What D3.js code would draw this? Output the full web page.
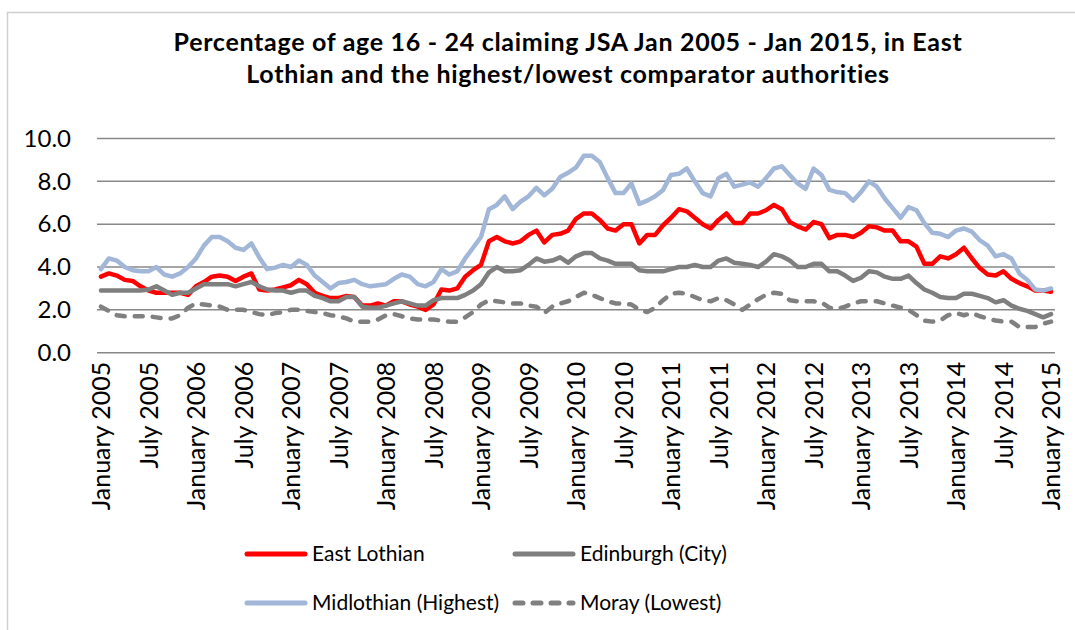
<!DOCTYPE html>
<html lang="en">
<head>
<meta charset="UTF-8">
<title>JSA claimants age 16-24</title>
<script src="https://cdn.jsdelivr.net/npm/d3@7"></script>
<style>
  body { margin: 0; background: #fff; }
  svg text { font-family: Lato, "Open Sans", sans-serif; fill: #000; }
</style>
</head>
<body>
<script>
// monthly values, Jan 2005 .. Jan 2015 (121 months)
const eastLothian = [
  3.55,3.7,3.6,3.4,3.35,3.1,2.9,2.8,2.8,2.8,
  2.8,2.7,3.1,3.3,3.55,3.6,3.55,3.35,3.55,3.7,
  2.95,2.9,2.95,3.05,3.15,3.4,3.2,2.8,2.65,2.55,
  2.55,2.65,2.6,2.2,2.2,2.3,2.2,2.4,2.4,2.25,
  2.15,2.0,2.25,2.95,2.9,3.0,3.55,3.85,4.1,5.2,
  5.4,5.2,5.1,5.2,5.5,5.7,5.15,5.5,5.55,5.7,
  6.25,6.5,6.5,6.2,5.8,5.7,6.0,6.0,5.1,5.5,
  5.5,5.95,6.3,6.7,6.6,6.3,6.0,5.8,6.2,6.5,
  6.05,6.05,6.5,6.5,6.65,6.9,6.7,6.1,5.9,5.75,
  6.1,6.0,5.35,5.5,5.5,5.4,5.6,5.9,5.85,5.7,
  5.7,5.2,5.2,4.95,4.15,4.15,4.5,4.4,4.6,4.9,
  4.4,3.95,3.65,3.6,3.8,3.45,3.25,3.1,2.9,2.9,
  2.85
];
const edinburgh = [
  2.9,2.9,2.9,2.9,2.9,2.9,2.95,3.1,2.9,2.7,
  2.8,2.8,3.0,3.2,3.2,3.2,3.2,3.1,3.2,3.3,
  3.1,2.95,2.9,2.9,2.8,2.9,2.9,2.65,2.55,2.4,
  2.4,2.6,2.6,2.15,2.1,2.1,2.2,2.3,2.4,2.3,
  2.2,2.2,2.45,2.55,2.55,2.55,2.7,2.9,3.2,3.75,
  4.0,3.8,3.8,3.85,4.1,4.4,4.25,4.3,4.45,4.2,
  4.5,4.65,4.65,4.4,4.3,4.15,4.15,4.15,3.85,3.8,
  3.8,3.8,3.9,4.0,4.0,4.1,4.0,4.0,4.3,4.4,
  4.2,4.15,4.1,4.0,4.25,4.6,4.5,4.3,4.0,4.0,
  4.15,4.15,3.8,3.8,3.6,3.35,3.5,3.8,3.75,3.55,
  3.45,3.45,3.6,3.25,2.95,2.8,2.6,2.55,2.55,2.75,
  2.75,2.65,2.55,2.35,2.45,2.2,2.05,1.95,1.8,1.65,
  1.8
];
const midlothian = [
  3.9,4.4,4.3,4.0,3.85,3.8,3.8,4.0,3.65,3.55,
  3.7,4.0,4.4,5.0,5.4,5.4,5.2,4.9,4.8,5.1,
  4.45,3.9,3.97,4.1,4.0,4.3,4.1,3.6,3.3,3.0,
  3.25,3.3,3.4,3.2,3.1,3.15,3.2,3.45,3.65,3.55,
  3.2,3.1,3.3,3.9,3.65,3.8,4.4,4.9,5.4,6.7,
  6.9,7.3,6.7,7.05,7.3,7.7,7.35,7.65,8.2,8.4,
  8.65,9.2,9.2,8.9,8.15,7.45,7.45,7.9,6.95,7.1,
  7.3,7.6,8.3,8.35,8.6,8.0,7.45,7.3,8.15,8.35,
  7.75,7.85,7.95,7.75,8.15,8.6,8.7,8.3,7.9,7.65,
  8.6,8.3,7.6,7.5,7.45,7.1,7.5,8.0,7.75,7.2,
  6.75,6.3,6.8,6.65,6.05,5.6,5.55,5.4,5.7,5.8,
  5.65,5.25,5.0,4.5,4.6,4.4,3.7,3.4,2.95,2.9,
  3.0
];
const moray = [
  2.15,1.95,1.75,1.7,1.7,1.7,1.7,1.65,1.6,1.6,
  1.75,2.1,2.3,2.25,2.2,2.15,2.0,2.0,2.0,1.9,
  1.8,1.75,1.85,1.9,2.0,2.0,1.95,1.9,1.85,1.75,
  1.7,1.6,1.45,1.45,1.45,1.55,1.75,1.8,1.7,1.6,
  1.55,1.55,1.55,1.5,1.45,1.45,1.65,1.9,2.25,2.45,
  2.4,2.35,2.3,2.3,2.2,2.15,1.85,2.15,2.3,2.4,
  2.6,2.8,2.7,2.55,2.4,2.3,2.3,2.25,2.0,1.9,
  2.1,2.45,2.75,2.8,2.75,2.6,2.45,2.4,2.55,2.45,
  2.25,2.0,2.25,2.5,2.7,2.8,2.75,2.45,2.4,2.4,
  2.4,2.35,2.1,2.05,2.15,2.3,2.4,2.4,2.4,2.3,
  2.2,2.1,2.0,1.75,1.5,1.45,1.5,1.75,1.85,1.75,
  1.85,1.7,1.6,1.5,1.45,1.45,1.2,1.2,1.2,1.35,
  1.45
];

const seriesNames = ["East Lothian", "Edinburgh (City)", "Midlothian (Highest)", "Moray (Lowest)"];
const yTicks = [0, 2, 4, 6, 8, 10];
const months = d3.timeMonth.range(new Date(2005, 0, 1), new Date(2015, 1, 1));
const labelEvery = 6;

const series = [
  { name: seriesNames[0], values: eastLothian, color: "#ff0000", dash: null },
  { name: seriesNames[1], values: edinburgh, color: "#7f7f7f", dash: null },
  { name: seriesNames[2], values: midlothian, color: "#a2b6d8", dash: null },
  { name: seriesNames[3], values: moray, color: "#808080", dash: "8,10" }
];

const width = 1075, height = 630;
const plot = { left: 97, right: 1055, top: 138.5, bottom: 352.7 };

const svg = d3.select("body").append("svg")
  .attr("width", width)
  .attr("height", height);

// chart frame
svg.append("rect")
  .attr("x", 7.5).attr("y", 12.5)
  .attr("width", 1100).attr("height", 700)
  .attr("fill", "none")
  .attr("stroke", "#d0d0d0")
  .attr("stroke-width", 1.5);

const titleLines = [
  "Percentage of age 16 - 24 claiming JSA Jan 2005 - Jan 2015, in East",
  "Lothian and the highest/lowest comparator authorities"
];
svg.append("g")
  .selectAll("text")
  .data(titleLines)
  .join("text")
  .attr("x", 568)
  .attr("y", (d, i) => 51 + i * 32)
  .attr("text-anchor", "middle")
  .style("font-weight", "bold")
  .style("font-size", "25px")
  .style("letter-spacing", "0.7px")
  .text(d => d);

const x = d3.scalePoint()
  .domain(d3.range(months.length))
  .range([plot.left, plot.right])
  .padding(0.5);

const y = d3.scaleLinear()
  .domain([0, 10])
  .range([plot.bottom, plot.top]);

// gridlines
svg.append("g")
  .selectAll("line")
  .data(yTicks)
  .join("line")
  .attr("x1", plot.left).attr("x2", plot.right)
  .attr("y1", d => y(d)).attr("y2", d => y(d))
  .attr("stroke", "#888")
  .attr("stroke-width", 1.5);

// y axis labels
const yAxis = d3.axisLeft(y).tickValues(yTicks).tickFormat(d3.format(".1f")).tickSize(0).tickPadding(26);
svg.append("g")
  .attr("transform", `translate(${plot.left},0)`)
  .call(yAxis)
  .call(g => g.select(".domain").remove())
  .selectAll("text")
  .style("font-family", "Lato, sans-serif")
  .style("font-size", "24px")
  .attr("fill", "#000");

// x axis labels
const fmt = d3.timeFormat("%B %Y");
const xAxis = d3.axisBottom(x)
  .tickValues(d3.range(0, months.length, labelEvery))
  .tickFormat(i => fmt(months[i]))
  .tickSize(0);
svg.append("g")
  .attr("transform", `translate(0,${plot.bottom})`)
  .call(xAxis)
  .call(g => g.select(".domain").remove())
  .selectAll("text")
  .style("font-family", "Lato, sans-serif")
  .style("font-size", "25px")
  .attr("fill", "#000")
  .attr("transform", "rotate(-90)")
  .attr("text-anchor", "end")
  .attr("x", -9)
  .attr("y", 0)
  .attr("dy", "0.35em");

// lines
const line = d3.line()
  .x((d, i) => x(i))
  .y(d => y(d));

svg.append("g")
  .selectAll("path")
  .data(series)
  .join("path")
  .attr("d", d => line(d.values))
  .attr("fill", "none")
  .attr("stroke", d => d.color)
  .attr("stroke-width", 4.5)
  .attr("stroke-linejoin", "round")
  .attr("stroke-linecap", "round")
  .attr("stroke-dasharray", d => d.dash);

// legend
const legendPos = [
  { x: 245, y: 554 }, { x: 513, y: 554 },
  { x: 245, y: 603 }, { x: 513, y: 603 }
];
const legend = svg.append("g")
  .selectAll("g")
  .data(series)
  .join("g")
  .attr("transform", (d, i) => `translate(${legendPos[i].x},${legendPos[i].y})`);
legend.append("line")
  .attr("x1", 2).attr("x2", 60)
  .attr("stroke", d => d.color)
  .attr("stroke-width", 5)
  .attr("stroke-linecap", "round")
  .attr("stroke-dasharray", d => d.dash);
legend.append("text")
  .attr("x", 67).attr("dy", "0.35em")
  .style("font-size", "21px")
  .text(d => d.name);
</script>
</body>
</html>
